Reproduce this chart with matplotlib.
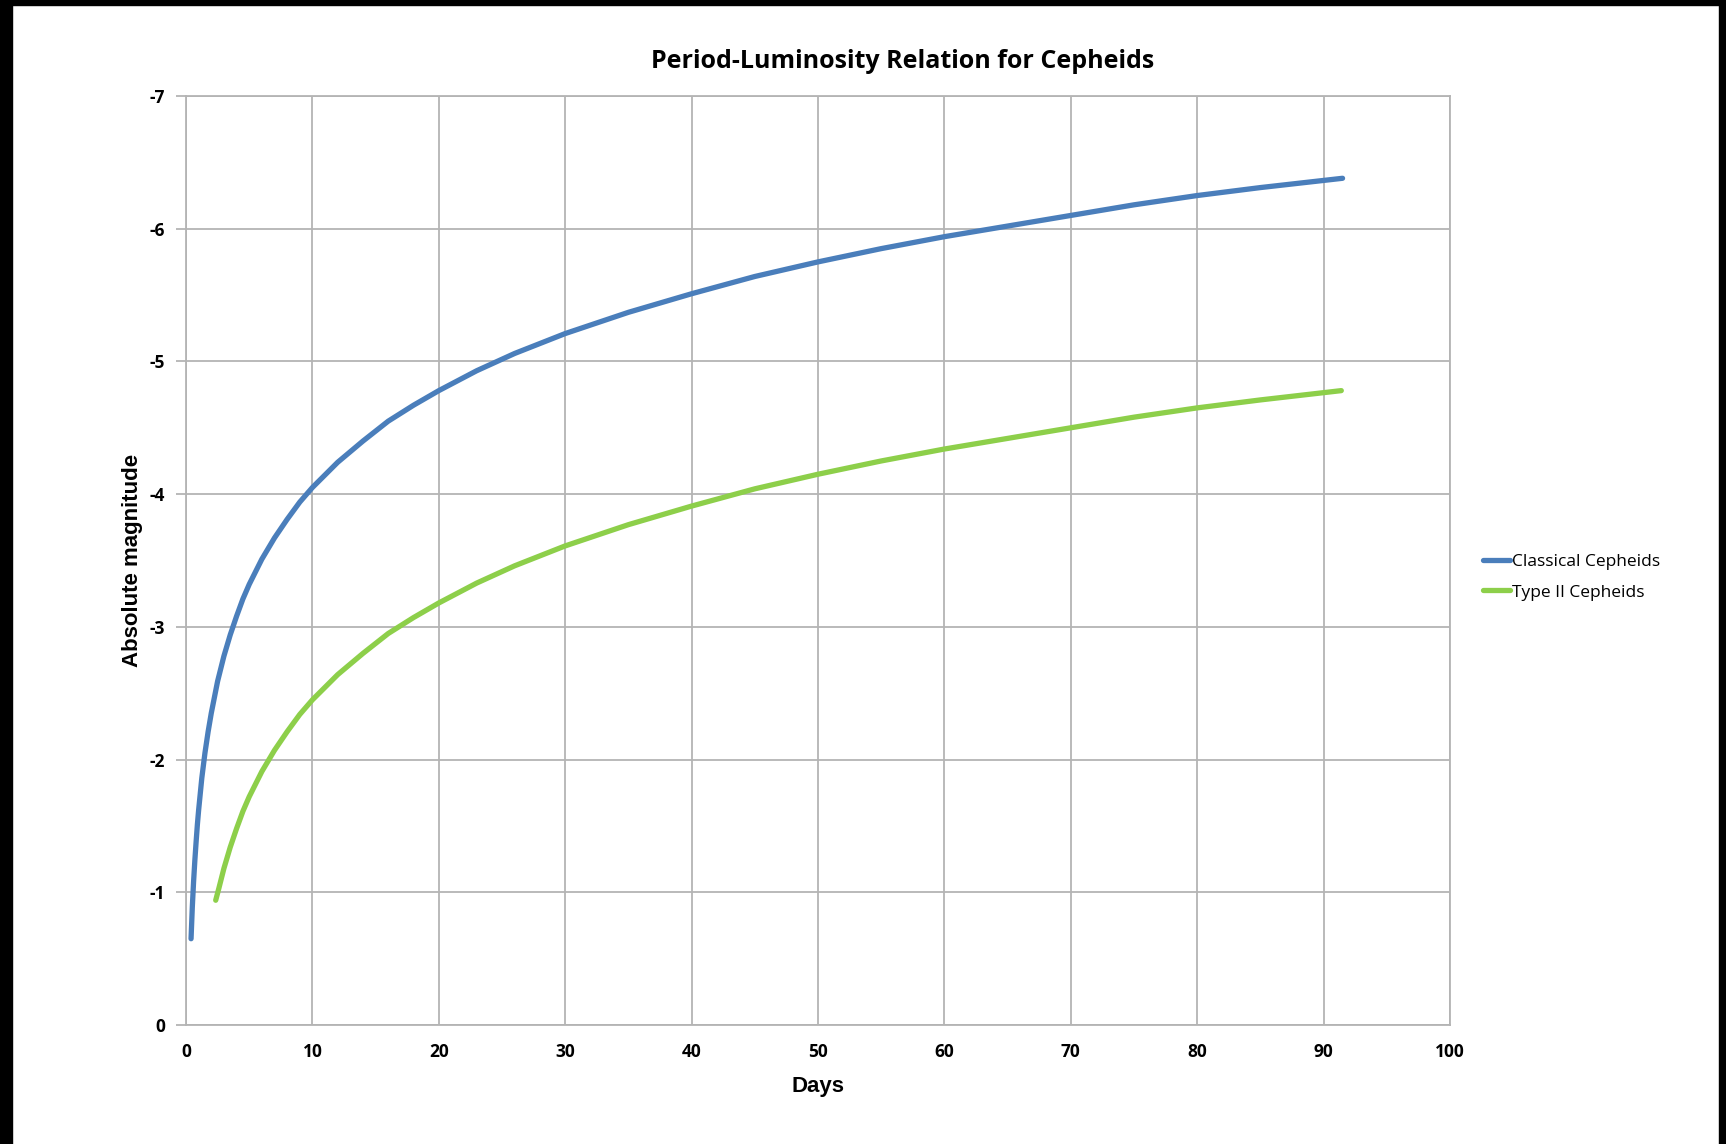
import matplotlib
matplotlib.use("Agg")
import matplotlib.pyplot as plt
from matplotlib.patches import Rectangle

# values
classical_days = [0.4, 0.5, 0.6, 0.7, 0.8, 0.9, 1, 1.25, 1.5, 1.75, 2, 2.5, 3, 3.5, 4, 4.5, 5, 6, 7, 8,
                  9, 10, 12, 14, 16, 18, 20, 23, 26, 30, 35, 40, 45, 50, 55, 60, 65, 70, 75, 80, 85, 91.5]
classical_mag = [-0.65, -0.89, -1.08, -1.24, -1.38, -1.51, -1.62, -1.86, -2.05, -2.21, -2.35, -2.59,
                 -2.78, -2.94, -3.08, -3.21, -3.32, -3.51, -3.67, -3.81, -3.94, -4.05, -4.24, -4.40,
                 -4.55, -4.67, -4.78, -4.93, -5.06, -5.21, -5.37, -5.51, -5.64, -5.75, -5.85, -5.94,
                 -6.02, -6.10, -6.18, -6.25, -6.31, -6.38]
type2_days = [2.35, 2.6, 3, 3.5, 4, 4.5, 5, 6, 7, 8, 9, 10, 12, 14, 16, 18, 20, 23, 26, 30, 35, 40,
              45, 50, 55, 60, 65, 70, 75, 80, 85, 91.4]
type2_mag = [-0.94, -1.03, -1.18, -1.34, -1.48, -1.61, -1.72, -1.91, -2.07, -2.21, -2.34, -2.45,
             -2.64, -2.80, -2.95, -3.07, -3.18, -3.33, -3.46, -3.61, -3.77, -3.91, -4.04, -4.15,
             -4.25, -4.34, -4.42, -4.50, -4.58, -4.65, -4.71, -4.78]
x_ticks = list(range(0, 101, 10))
y_ticks = list(range(-7, 1))

W, H = 1726, 1144
fig = plt.figure(figsize=(W / 100, H / 100), dpi=100)
fig.patch.set_facecolor("white")

# black frame around the screenshot
for (x0, y0, w, h) in [(0, 0, 12, H), (0, 0, W, 5), (1719, 0, W - 1719, H)]:
    fig.patches.append(Rectangle((x0 / W, 1 - (y0 + h) / H), w / W, h / H,
                                 transform=fig.transFigure, color="black", zorder=10))

ax = fig.add_axes([186 / W, 1 - 1025 / H, (1450 - 186) / W, (1025 - 96) / H])

grid_col = "#B4B4B4"
ax.plot(classical_days, classical_mag, color="#4A7EBB", lw=3.8, label="Classical Cepheids",
        solid_capstyle="round", solid_joinstyle="round")
ax.plot(type2_days, type2_mag, color="#8DCF4A", lw=3.8, label="Type II Cepheids",
        solid_capstyle="round", solid_joinstyle="round")

ax.set_xlim(0, 100)
ax.set_ylim(0, -7)
ax.set_xticks(x_ticks)
ax.set_yticks(y_ticks)
ax.set_xticklabels([str(v) for v in x_ticks])
ax.set_yticklabels([str(v) for v in y_ticks])
ax.grid(True, color=grid_col, lw=1.3)
ax.set_axisbelow(True)
for s in ax.spines.values():
    s.set_color(grid_col)
    s.set_linewidth(1.3)
ax.tick_params(axis="y", length=7, width=1.3, color=grid_col, pad=8)
ax.tick_params(axis="x", length=0, pad=13)
for lab in ax.get_xticklabels() + ax.get_yticklabels():
    lab.set_fontfamily("Open Sans")
    lab.set_fontweight("bold")
    lab.set_fontsize(12.5)

ax.set_xlabel("Days", family="Liberation Sans", weight="bold", fontsize=16, labelpad=11)
ax.set_ylabel("Absolute magnitude", family="Liberation Sans", weight="bold", fontsize=16,
              labelpad=5)

fig.text(903 / W, 1 - 61 / H, "Period-Luminosity Relation for Cepheids", ha="center",
         va="center", family="Open Sans", weight="bold", fontsize=18)

leg = ax.legend(loc="center left", bbox_to_anchor=(1467 / W, 1 - 577 / H),
                bbox_transform=fig.transFigure, frameon=False, handlelength=1.6,
                handletextpad=0.1, labelspacing=0.85, prop={"family": "Open Sans", "size": 12.5})

fig.savefig("out.png", dpi=100)
